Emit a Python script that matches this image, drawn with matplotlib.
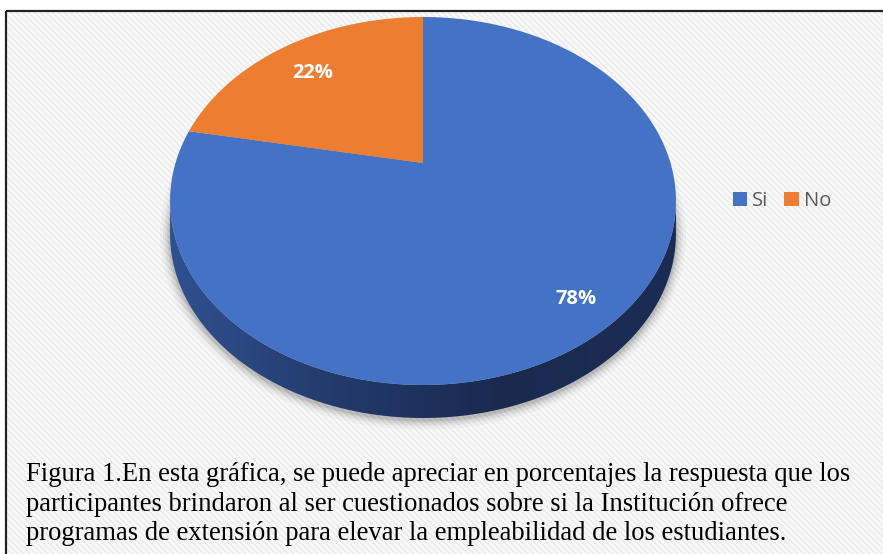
import numpy as np
import matplotlib
matplotlib.use("Agg")
import matplotlib.pyplot as plt
from matplotlib.patches import Polygon, Patch
from matplotlib.colors import LinearSegmentedColormap

# ---- data ----
categories = ["Si", "No"]
values = [78, 22]
colors = ["#4472C4", "#ED7D31"]
caption_lines = [
    "Figura 1.En esta gráfica, se puede apreciar en porcentajes la respuesta que los",
    "participantes brindaron al ser cuestionados sobre si la Institución ofrece",
    "programas de extensión para elevar la empleabilidad de los estudiantes.",
]

W, H = 883, 554
fig = plt.figure(figsize=(W / 100, H / 100), dpi=100)
ax = fig.add_axes([0, 0, 1, 1])
ax.set_xlim(0, W)
ax.set_ylim(H, 0)
ax.axis("off")

# ---- background stripes and frame ----
ax.add_patch(plt.Rectangle((6, 11), W, H, color="#fafafa", zorder=0))
for x0 in np.arange(-H, W, 6):
    xs = np.array([x0, x0 + H])
    ys = np.array([0, H])
    ax.plot(xs, ys, color="#ececec", lw=1.3, zorder=0.5, clip_on=True)
# mask area outside frame
ax.add_patch(plt.Rectangle((0, 0), W, 11, color="white", zorder=0.6))
ax.add_patch(plt.Rectangle((0, 0), 6, H, color="white", zorder=0.6))
ax.plot([6, W], [11, 11], color="#222222", lw=1.6, zorder=1, solid_capstyle="butt")
ax.plot([6, 6], [11, H], color="#222222", lw=1.6, zorder=1, solid_capstyle="butt")

# ---- perspective pie geometry ----
cx, cy = 423.0, 201.0
a_, b_, c_, e_ = 247.5, 184.0, 0.2065, 38.0
depth = 33.0


def proj(u, v):
    w = 1 + c_ * v
    return cx + a_ * u / w, cy - (b_ * v + e_) / w


# shadow
ts = np.linspace(0, 2 * np.pi, 400)
sx, sy = proj(np.cos(ts), np.sin(ts))
for k, al in zip([10, 7, 5, 3, 1.5], [0.03, 0.04, 0.05, 0.06, 0.08]):
    pts = np.column_stack([cx + (sx - cx) * (1 + k / 250), sy + depth + 2 + (sy - cy) * (k / 190)])
    ax.add_patch(Polygon(pts, closed=True, fc="black", ec="none", alpha=al, zorder=2))

# side (front half)
t0 = np.pi + np.arcsin(e_ / b_)
t1 = 2 * np.pi - np.arcsin(e_ / b_)
tf = np.linspace(t0, t1, 300)
fx, fy = proj(np.cos(tf), np.sin(tf))
side = np.vstack([np.column_stack([fx, fy]), np.column_stack([fx[::-1], fy[::-1] + depth])])
side_patch = Polygon(side, closed=True, fc="none", ec="none", zorder=3)
ax.add_patch(side_patch)
cmap = LinearSegmentedColormap.from_list(
    "side", [(0, "#2f5190"), (0.35, "#22396a"), (0.65, "#1a2a4f"), (1.0, "#1c2d54")])
grad = np.linspace(0, 1, 256).reshape(1, -1)
im = ax.imshow(grad, cmap=cmap, extent=[fx.min(), fx.max(), fy.max() + depth, fy.min()],
               aspect="auto", zorder=3)
im.set_clip_path(side_patch)

# top face wedges: start at 12 o'clock, clockwise
fracs = np.array(values, dtype=float) / np.sum(values)
start = 90.0
for frac, col, lab in zip(fracs, colors, categories):
    end = start - frac * 360
    tt = np.radians(np.linspace(start, end, 200))
    px, py = proj(np.cos(tt), np.sin(tt))
    ox, oy = proj(0.0, 0.0)
    pts = np.vstack([[ox, oy], np.column_stack([px, py])])
    ax.add_patch(Polygon(pts, closed=True, fc=col, ec="none", zorder=4, label=lab))
    mid = np.radians((start + end) / 2)
    lx, ly = proj(0.82 * np.cos(mid), 0.82 * np.sin(mid))
    ax.text(lx + 4, ly + 8, f"{frac * 100:.0f}%", color="white", fontsize=14.5, fontweight="bold",
            family="Open Sans", ha="center", va="center", zorder=5)
    start = end

# ---- legend ----
handles = [Patch(fc=c, ec="none") for c in colors]
leg = ax.legend(handles, categories, ncol=2, frameon=False, loc="center left",
                bbox_to_anchor=(733 / W, 1 - 201 / H), prop={"family": "Open Sans", "size": 14.5},
                handlelength=0.7, handleheight=0.7, handletextpad=0.25, columnspacing=0.8,
                borderaxespad=0, borderpad=0)
for t in leg.get_texts():
    t.set_color("#595959")

# ---- caption ----
for i, y in enumerate([481, 511, 540]):
    ax.text(26, y, caption_lines[i], family="Liberation Serif", fontsize=19.2,
            ha="left", va="baseline", color="black", zorder=5)

fig.savefig("out.png", dpi=100)
